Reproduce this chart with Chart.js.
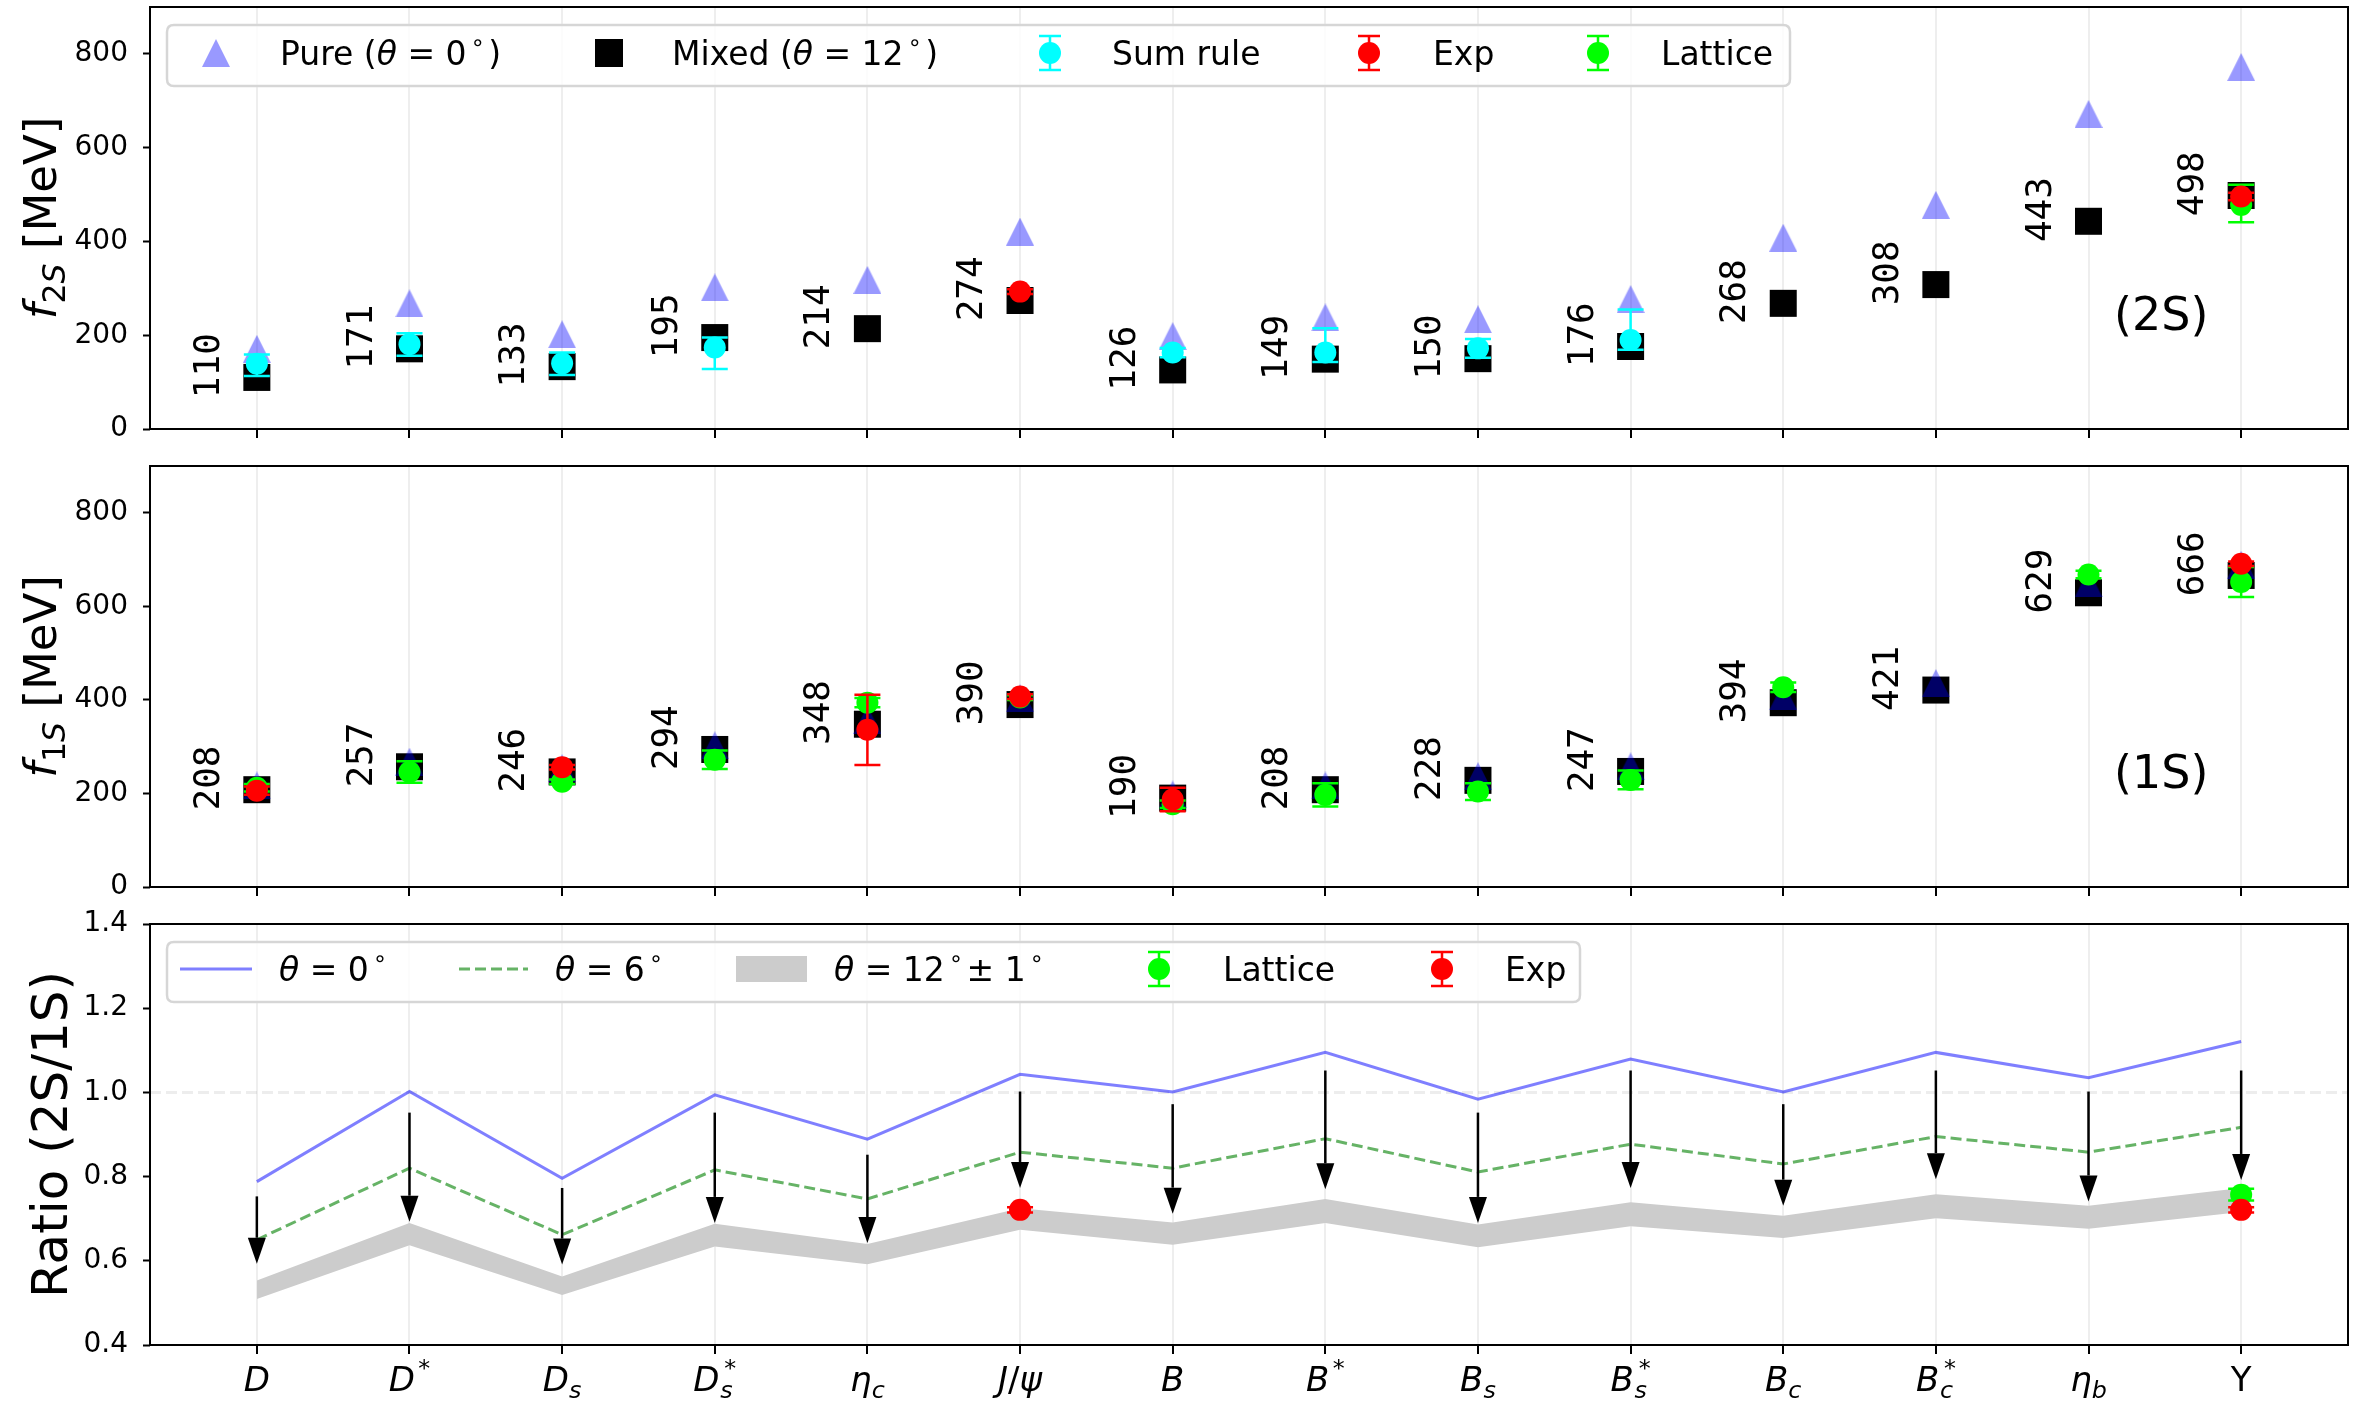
<!DOCTYPE html>
<html>
<head>
<meta charset="utf-8">
<script src="https://cdn.jsdelivr.net/npm/chart.js@4.4.1/dist/chart.umd.min.js"></script>
<style>
  html, body { margin: 0; padding: 0; background: #ffffff; }
  #wrap { position: relative; width: 2354px; height: 1408px; overflow: hidden; }
  #wrap canvas { position: absolute; left: 0; }
</style>
</head>
<body>
<div id="wrap">
  <canvas id="c2s" width="2354" height="462" style="top:0px;width:2354px;height:462px"></canvas>
  <canvas id="c1s" width="2354" height="462" style="top:462px;width:2354px;height:462px"></canvas>
  <canvas id="cratio" width="2354" height="508" style="top:900px;width:2354px;height:508px"></canvas>
</div>
<script>
// ---------------- data ----------------
const mesons  = ['D', 'D*', 'Ds', 'Ds*', 'eta_c', 'J/psi', 'B', 'B*', 'Bs', 'Bs*', 'Bc', 'Bc*', 'eta_b', 'Upsilon'];
// tick label pieces (base symbol, subscript, superscript)
const tickBase = ['D', 'D', 'D', 'D', 'η', 'J/ψ', 'B', 'B', 'B', 'B', 'B', 'B', 'η', 'Υ'];
const tickSub  = ['', '', 's', 's', 'c', '', '', '', 's', 's', 'c', 'c', 'b', ''];
const tickSup  = ['', '*', '', '*', '', '', '', '*', '', '*', '', '*', '', ''];

const fTicks     = [0, 200, 400, 600, 800];
const ratioTicks = [0.4, 0.6, 0.8, 1.0, 1.2, 1.4];

// 2S decay constants [MeV]
const f2sPure  = [171, 268, 202, 302, 318, 421, 198, 238, 234, 277, 408, 478, 672, 772];
const f2sMixed = [110, 171, 133, 195, 214, 274, 126, 149, 150, 176, 268, 308, 443, 498];
const f2sSumRule      = [139, 181, 140, 174, null, null, 163, 163, 172, 190, null, null, null, null];
const f2sSumRuleErrLo = [26, 25, 25, 46, 0, 0, 10, 20, 20, 21, 0, 0, 0, 0];
const f2sSumRuleErrHi = [20, 23, 23, 21, 0, 0, 10, 52, 20, 65, 0, 0, 0, 0];
const f2sExp      = [null, null, null, null, null, 293, null, null, null, null, null, null, null, 496];
const f2sExpErr   = [0, 0, 0, 0, 0, 5, 0, 0, 0, 0, 0, 0, 0, 8];
const f2sLattice      = [null, null, null, null, null, null, null, null, null, null, null, null, null, 478];
const f2sLatticeErrLo = [0, 0, 0, 0, 0, 0, 0, 0, 0, 0, 0, 0, 0, 37];
const f2sLatticeErrHi = [0, 0, 0, 0, 0, 0, 0, 0, 0, 0, 0, 0, 0, 43];

// 1S decay constants [MeV]
const f1sPure  = [217, 268, 254, 303, 357, 404, 198, 217, 237, 258, 408, 436, 649, 689];
const f1sMixed = [208, 257, 246, 294, 348, 390, 190, 208, 228, 247, 394, 421, 629, 666];
const f1sExp     = [206, null, 256, null, 336, 407, 187, null, null, null, null, null, null, 691];
const f1sExpErr  = [9, 0, 5, 0, 75, 5, 25, 0, 0, 0, 0, 0, 0, 5];
const f1sLattice    = [212, 246, 225, 272, 394, 405, 177, 197, 204, 229, 427, null, 668, 652];
const f1sLatticeErr = [8, 23, 5, 20, 10, 5, 8, 25, 18, 20, 10, 0, 8, 32];

// 2S/1S ratios
const ratio0    = [0.788, 1.002, 0.796, 0.994, 0.889, 1.043, 1.001, 1.095, 0.984, 1.079, 1.001, 1.095, 1.035, 1.121];
const ratio6    = [0.650, 0.820, 0.662, 0.816, 0.747, 0.858, 0.820, 0.890, 0.811, 0.877, 0.830, 0.895, 0.858, 0.917];
const ratio12Hi = [0.553, 0.690, 0.563, 0.688, 0.640, 0.725, 0.691, 0.747, 0.686, 0.739, 0.707, 0.758, 0.731, 0.773];
const ratio12Lo = [0.509, 0.637, 0.519, 0.634, 0.592, 0.674, 0.638, 0.690, 0.632, 0.682, 0.654, 0.701, 0.676, 0.716];
const arrowFrom = [0.753, 0.952, 0.773, 0.952, 0.852, 1.002, 0.972, 1.052, 0.952, 1.052, 0.972, 1.052, 1.002, 1.052];
const arrowTo   = [0.593, 0.693, 0.591, 0.690, 0.642, 0.773, 0.712, 0.770, 0.690, 0.773, 0.731, 0.794, 0.741, 0.792];
const ratioExp        = [null, null, null, null, null, 0.721, null, null, null, null, null, null, null, 0.721];
const ratioExpErr     = [0, 0, 0, 0, 0, 0.006, 0, 0, 0, 0, 0, 0, 0, 0.006];
const ratioLattice    = [null, null, null, null, null, null, null, null, null, null, null, null, null, 0.757];
const ratioLatticeErr = [0, 0, 0, 0, 0, 0, 0, 0, 0, 0, 0, 0, 0, 0.014];

// ---------------- helpers ----------------
const FAM = '"DejaVu Sans"';
const BLUE_T = 'rgba(0,0,255,0.4)';
const CYAN = '#00ffff', RED = '#ff0000', LIME = '#00ff00';

function pts(vals) {
  return vals.map((v, i) => v == null ? null : { x: i, y: v }).filter(Boolean);
}
function ptsErr(vals, lo, hi) {
  return vals.map((v, i) => v == null ? null : { x: i, y: v, lo: lo[i], hi: (hi || lo)[i] }).filter(Boolean);
}
function triangleImage(size, color) {
  const c = document.createElement('canvas');
  c.width = size; c.height = size;
  const g = c.getContext('2d');
  g.fillStyle = color;
  g.beginPath();
  g.moveTo(size / 2, 0); g.lineTo(size, size); g.lineTo(0, size);
  g.closePath(); g.fill();
  return c;
}
const triImg = triangleImage(28, BLUE_T);

function fontOf(size, it) { return (it ? 'italic ' : '') + size + 'px ' + FAM; }
function segWidth(ctx, s, F) {
  if (s.stack) {
    ctx.font = fontOf(0.7 * F, true);
    const a = ctx.measureText(s.stack[0]).width;
    ctx.font = fontOf(0.7 * F, false);
    const b = ctx.measureText(s.stack[1]).width + (s.supDx || 0) * F;
    return Math.max(a, b) + (s.padL || 0) * F;
  }
  const sz = (s.sub || s.sup) ? 0.7 * F : F;
  ctx.font = fontOf(sz, s.it);
  return ctx.measureText(s.t).width + ((s.padL || 0) + (s.padR || 0)) * F;
}
function drawRich(ctx, segs, x, y, F, align) {
  let w = 0;
  for (const s of segs) w += segWidth(ctx, s, F);
  let cx = align === 'center' ? x - w / 2 : x;
  ctx.textAlign = 'left';
  ctx.textBaseline = 'alphabetic';
  for (const s of segs) {
    const adv = segWidth(ctx, s, F);
    if (s.stack) {
      const px = cx + (s.padL || 0) * F;
      ctx.font = fontOf(0.7 * F, true);
      ctx.fillText(s.stack[0], px, y + 0.2 * F);
      ctx.font = fontOf(0.7 * F, false);
      ctx.fillText(s.stack[1], px + (s.supDx || 0) * F, y - 0.45 * F);
    } else {
      const sz = (s.sub || s.sup) ? 0.7 * F : F;
      const dy = s.sub ? 0.2 * F : (s.sup ? -0.45 * F : 0);
      ctx.font = fontOf(sz, s.it);
      ctx.fillText(s.t, cx + (s.padL || 0) * F, y + dy);
    }
    cx += adv;
  }
}
function tickSegs(i) {
  const segs = [];
  for (const ch of tickBase[i]) segs.push({ t: ch, it: !(ch === '/' || ch === 'Υ') });
  const sb = tickSub[i], sp = tickSup[i];
  if (sb && sp) segs.push({ stack: [sb, sp], padL: 0.02, supDx: 0.12 });
  else if (sb) segs.push({ t: sb, it: true, sub: true });
  else if (sp) segs.push({ t: sp, sup: true, padL: 0.1 });
  return segs;
}
function degSegs(prefix, num, suffix) {
  const s = [];
  if (prefix) s.push({ t: prefix });
  s.push({ t: 'θ', it: true }, { t: ' = ' + num }, { t: '∘', sup: true, padL: 0.12, padR: 0.1 });
  if (suffix) s.push(...suffix);
  return s;
}
function drawErrIcon(ctx, x, y, color) {
  ctx.save();
  ctx.strokeStyle = color; ctx.fillStyle = color; ctx.lineWidth = 2.5;
  ctx.beginPath();
  ctx.moveTo(x, y - 17); ctx.lineTo(x, y + 17);
  ctx.moveTo(x - 11, y - 17); ctx.lineTo(x + 11, y - 17);
  ctx.moveTo(x - 11, y + 17); ctx.lineTo(x + 11, y + 17);
  ctx.stroke();
  ctx.beginPath(); ctx.arc(x, y, 11, 0, Math.PI * 2); ctx.fill();
  ctx.restore();
}
function roundRect(ctx, x, y, w, h, r) {
  ctx.beginPath();
  ctx.moveTo(x + r, y); ctx.lineTo(x + w - r, y); ctx.quadraticCurveTo(x + w, y, x + w, y + r);
  ctx.lineTo(x + w, y + h - r); ctx.quadraticCurveTo(x + w, y + h, x + w - r, y + h);
  ctx.lineTo(x + r, y + h); ctx.quadraticCurveTo(x, y + h, x, y + h - r);
  ctx.lineTo(x, y + r); ctx.quadraticCurveTo(x, y, x + r, y);
  ctx.closePath();
}

// ---------------- decoration plugin ----------------
const decor = {
  id: 'decor',
  beforeDatasetsDraw(chart, args, o) {
    const { ctx, chartArea: a, scales: { y } } = chart;
    if (o.refLine != null) {
      const py = y.getPixelForValue(o.refLine);
      ctx.save();
      ctx.strokeStyle = 'rgba(0,0,0,0.07)'; ctx.lineWidth = 3; ctx.setLineDash([11, 5]);
      ctx.beginPath(); ctx.moveTo(a.left, py); ctx.lineTo(a.right, py); ctx.stroke();
      ctx.restore();
    }
  },
  beforeDatasetDraw(chart, args) {
    const ds = chart.data.datasets[args.index];
    if (!ds.errColor) return;
    const { ctx, scales: { x, y } } = chart;
    ctx.save();
    ctx.strokeStyle = ds.errColor; ctx.lineWidth = 2.5;
    for (const p of ds.data) {
      const px = x.getPixelForValue(p.x);
      const y1 = y.getPixelForValue(p.y - p.lo), y2 = y.getPixelForValue(p.y + p.hi);
      ctx.beginPath();
      ctx.moveTo(px, y1); ctx.lineTo(px, y2);
      ctx.moveTo(px - 13, y1); ctx.lineTo(px + 13, y1);
      ctx.moveTo(px - 13, y2); ctx.lineTo(px + 13, y2);
      ctx.stroke();
    }
    ctx.restore();
  },
  afterDatasetsDraw(chart, args, o) {
    const { ctx, chartArea: a, scales: { x, y } } = chart;
    if (o.arrows) {
      ctx.save();
      ctx.strokeStyle = '#000'; ctx.fillStyle = '#000'; ctx.lineWidth = 2.5;
      o.arrows.from.forEach((v, i) => {
        const px = x.getPixelForValue(i);
        const y0 = y.getPixelForValue(v), y1 = y.getPixelForValue(o.arrows.to[i]);
        ctx.beginPath(); ctx.moveTo(px, y0); ctx.lineTo(px, y1 - 26); ctx.stroke();
        ctx.beginPath(); ctx.moveTo(px - 9, y1 - 26); ctx.lineTo(px + 9, y1 - 26); ctx.lineTo(px, y1);
        ctx.closePath(); ctx.fill();
      });
      ctx.restore();
    }
    if (o.numbers) {
      ctx.save();
      ctx.fillStyle = '#000';
      ctx.font = '36px "DejaVu Sans Mono"';
      ctx.textAlign = 'center'; ctx.textBaseline = 'middle';
      o.numbers.forEach((v, i) => {
        const px = x.getPixelForValue(i - 0.31), py = y.getPixelForValue(v + 25);
        ctx.save(); ctx.translate(px, py); ctx.rotate(-Math.PI / 2);
        ctx.fillText(String(v), 0, 0);
        ctx.restore();
      });
      ctx.restore();
    }
    // axes frame
    ctx.save();
    ctx.strokeStyle = '#000'; ctx.lineWidth = 2;
    ctx.strokeRect(a.left, a.top, a.right - a.left, a.bottom - a.top);
    ctx.restore();
  },
  afterDraw(chart, args, o) {
    const { ctx, chartArea: a, scales: { x } } = chart;
    ctx.save();
    ctx.fillStyle = '#000';
    // y-axis title
    if (o.title) {
      ctx.save();
      ctx.translate(o.title.x, (a.top + a.bottom) / 2);
      ctx.rotate(-Math.PI / 2);
      drawRich(ctx, o.title.segs, 0, 0, o.title.size, 'center');
      ctx.restore();
    }
    // panel tag
    if (o.tag) {
      ctx.font = '46px ' + FAM; ctx.textAlign = 'center'; ctx.textBaseline = 'middle';
      ctx.fillText(o.tag, a.left + 0.915 * (a.right - a.left), a.top + 0.737 * (a.bottom - a.top));
    }
    // category labels
    if (o.xLabels) {
      mesons.forEach((m, i) => drawRich(ctx, tickSegs(i), x.getPixelForValue(i), a.bottom + 46, 34, 'center'));
    }
    // legend
    if (o.legend) {
      const L = o.legend;
      ctx.save();
      roundRect(ctx, L.x, L.y, L.w, L.h, 7);
      ctx.fillStyle = 'rgba(255,255,255,0.8)'; ctx.fill();
      ctx.strokeStyle = '#d6d6d6'; ctx.lineWidth = 2.5; ctx.stroke();
      ctx.restore();
      for (const it of L.items) {
        const cy = L.iconY;
        ctx.save();
        if (it.icon === 'tri') ctx.drawImage(triImg, it.ix - 14, cy - 14);
        else if (it.icon === 'sq') { ctx.fillStyle = '#000'; ctx.fillRect(it.ix - 14, cy - 14, 28, 28); }
        else if (it.icon === 'err') drawErrIcon(ctx, it.ix, cy, it.color);
        else if (it.icon === 'line') {
          ctx.strokeStyle = it.color; ctx.lineWidth = 3;
          if (it.dash) ctx.setLineDash(it.dash);
          ctx.beginPath(); ctx.moveTo(it.ix, cy); ctx.lineTo(it.ix2, cy); ctx.stroke();
        } else if (it.icon === 'patch') {
          ctx.fillStyle = it.color; ctx.fillRect(it.ix, cy - 13, it.ix2 - it.ix, 26);
        }
        ctx.restore();
        ctx.fillStyle = '#000';
        drawRich(ctx, it.segs, it.tx, L.textY, 33, 'left');
      }
    }
    ctx.restore();
  }
};

// ---------------- chart factory ----------------
function makeChart(id, cfg) {
  return new Chart(document.getElementById(id), {
    type: 'scatter',
    data: { datasets: cfg.datasets },
    plugins: [decor],
    options: {
      responsive: false,
      animation: false,
      devicePixelRatio: 1,
      events: [],
      layout: { autoPadding: false, padding: { top: cfg.padTop, left: 0, right: 6, bottom: 0 } },
      plugins: { legend: { display: false }, tooltip: { enabled: false }, decor: cfg.decor },
      scales: {
        x: {
          type: 'linear', min: -0.7, max: 13.7,
          afterBuildTicks: s => { s.ticks = mesons.map((m, i) => ({ value: i })); },
          afterFit: s => { s.height = cfg.xHeight; s.paddingLeft = 0; s.paddingRight = 0; s.paddingTop = 0; s.paddingBottom = 0; },
          ticks: { display: false },
          grid: { color: 'rgba(0,0,0,0.065)', lineWidth: 2, drawTicks: true, tickLength: 9, tickColor: '#000', tickWidth: 2 },
          border: { display: false }
        },
        y: {
          type: 'linear', min: cfg.yMin, max: cfg.yMax,
          afterBuildTicks: s => { s.ticks = cfg.yTicks.map(v => ({ value: v })); },
          afterFit: s => { s.width = 150; s.paddingTop = 0; s.paddingBottom = 0; s.paddingLeft = 0; s.paddingRight = 0; },
          ticks: {
            font: { family: 'DejaVu Sans', size: 28, lineHeight: 0.2 }, color: '#000', padding: 15,
            callback: v => cfg.yFmt(v)
          },
          grid: { drawOnChartArea: false, drawTicks: true, tickLength: 7, tickColor: '#000', tickWidth: 2 },
          border: { display: false }
        }
      }
    }
  });
}

function fDatasets(pure, mixed, extra) {
  return [
    { label: 'Mixed (θ=12°)', data: pts(mixed), pointStyle: 'rect', pointRadius: 19.1, backgroundColor: '#000', borderWidth: 0, order: 10 },
    { label: 'Pure (θ=0°)', data: pts(pure), pointStyle: triImg, pointRadius: 14, order: 9 },
    ...extra
  ];
}
function errSet(label, data, color, order) {
  return { label, data, pointStyle: 'circle', pointRadius: 11, backgroundColor: color, borderWidth: 0, errColor: color, order };
}

// ---------------- f_2S panel ----------------
makeChart('c2s', {
  padTop: 7, xHeight: 33, yMin: 0, yMax: 900, yTicks: fTicks, yFmt: v => String(v),
  datasets: fDatasets(f2sPure, f2sMixed, [
    errSet('Sum rule', ptsErr(f2sSumRule, f2sSumRuleErrLo, f2sSumRuleErrHi), CYAN, 3),
    errSet('Lattice', ptsErr(f2sLattice, f2sLatticeErrLo, f2sLatticeErrHi), LIME, 2),
    errSet('Exp', ptsErr(f2sExp, f2sExpErr), RED, 1)
  ]),
  decor: {
    numbers: f2sMixed,
    tag: '(2S)',
    title: { x: 56, size: 45, segs: [{ t: 'f', it: true }, { t: '2', sub: true }, { t: 'S', sub: true, it: true }, { t: ' [MeV]' }] },
    legend: {
      x: 167, y: 25, w: 1623, h: 61, iconY: 53, textY: 65,
      items: [
        { icon: 'tri', ix: 216, tx: 280, segs: [{ t: 'Pure (' }, ...degSegs('', '0'), { t: ')' }] },
        { icon: 'sq', ix: 609, tx: 672, segs: [{ t: 'Mixed (' }, ...degSegs('', '12'), { t: ')' }] },
        { icon: 'err', color: CYAN, ix: 1050, tx: 1112, segs: [{ t: 'Sum rule' }] },
        { icon: 'err', color: RED, ix: 1369, tx: 1433, segs: [{ t: 'Exp' }] },
        { icon: 'err', color: LIME, ix: 1598, tx: 1661, segs: [{ t: 'Lattice' }] }
      ]
    }
  }
});

// ---------------- f_1S panel ----------------
makeChart('c1s', {
  padTop: 4, xHeight: 37, yMin: 0, yMax: 900, yTicks: fTicks, yFmt: v => String(v),
  datasets: fDatasets(f1sPure, f1sMixed, [
    errSet('Lattice', ptsErr(f1sLattice, f1sLatticeErr), LIME, 2),
    errSet('Exp', ptsErr(f1sExp, f1sExpErr), RED, 1)
  ]),
  decor: {
    numbers: f1sMixed,
    tag: '(1S)',
    title: { x: 56, size: 45, segs: [{ t: 'f', it: true }, { t: '1', sub: true }, { t: 'S', sub: true, it: true }, { t: ' [MeV]' }] }
  }
});

// ---------------- ratio panel ----------------
makeChart('cratio', {
  padTop: 24, xHeight: 63, yMin: 0.4, yMax: 1.4, yTicks: ratioTicks, yFmt: v => v.toFixed(1),
  datasets: [
    { label: 'θ=12° lower', data: pts(ratio12Lo), showLine: true, pointRadius: 0, borderWidth: 0, borderColor: 'rgba(0,0,0,0)', fill: false, order: 20 },
    { label: 'θ=12°±1°', data: pts(ratio12Hi), showLine: true, pointRadius: 0, borderWidth: 0, borderColor: 'rgba(0,0,0,0)', backgroundColor: '#cccccc', fill: '-1', order: 19 },
    { label: 'θ=6°', data: pts(ratio6), showLine: true, pointRadius: 0, borderWidth: 3, borderColor: 'rgba(0,128,0,0.6)', borderDash: [11, 5], fill: false, order: 18 },
    { label: 'θ=0°', data: pts(ratio0), showLine: true, pointRadius: 0, borderWidth: 3, borderColor: 'rgba(0,0,255,0.5)', fill: false, order: 17 },
    errSet('Lattice', ptsErr(ratioLattice, ratioLatticeErr), LIME, 2),
    errSet('Exp', ptsErr(ratioExp, ratioExpErr), RED, 1)
  ],
  decor: {
    refLine: 1.0,
    arrows: { from: arrowFrom, to: arrowTo },
    xLabels: true,
    title: { x: 67, size: 50, segs: [{ t: 'Ratio (2S/1S)' }] },
    legend: {
      x: 167, y: 42, w: 1413, h: 60, iconY: 69, textY: 81,
      items: [
        { icon: 'line', color: 'rgba(0,0,255,0.5)', ix: 180, ix2: 252, tx: 279, segs: degSegs('', '0') },
        { icon: 'line', color: 'rgba(0,128,0,0.6)', dash: [11, 5], ix: 459, ix2: 528, tx: 555, segs: degSegs('', '6') },
        { icon: 'patch', color: '#cccccc', ix: 736, ix2: 807, tx: 834, segs: degSegs('', '12', [{ t: '± 1' }, { t: '∘', sup: true, padL: 0.12 }]) },
        { icon: 'err', color: LIME, ix: 1159, tx: 1223, segs: [{ t: 'Lattice' }] },
        { icon: 'err', color: RED, ix: 1442, tx: 1505, segs: [{ t: 'Exp' }] }
      ]
    }
  }
});
</script>
</body>
</html>
